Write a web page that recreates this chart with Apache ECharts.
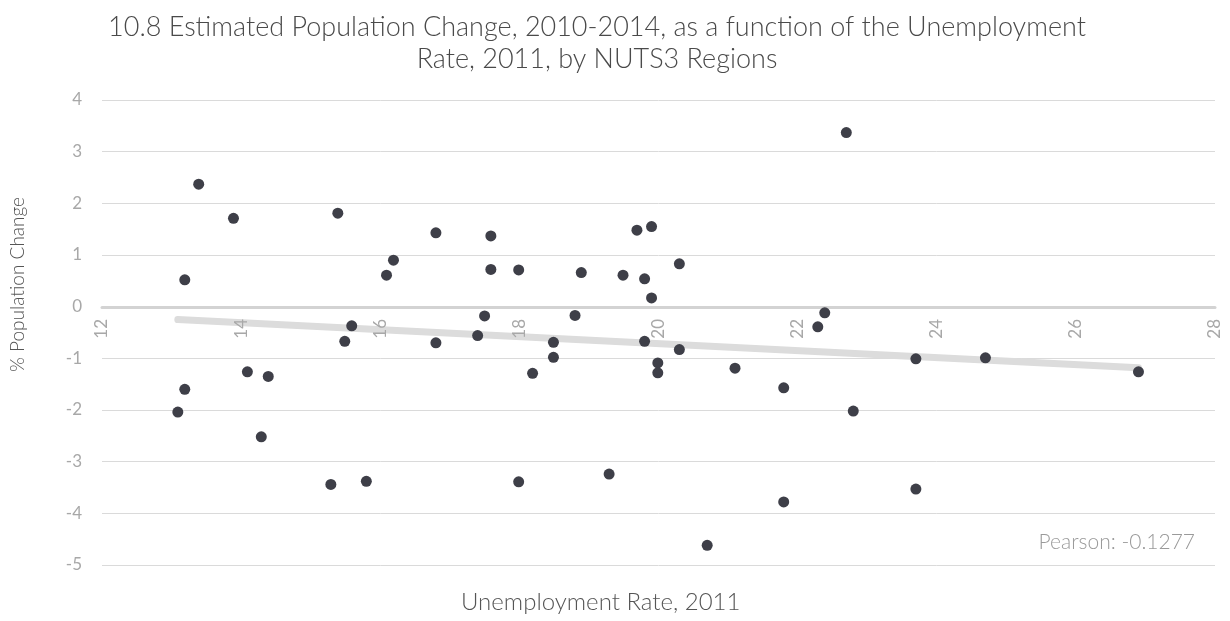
<!DOCTYPE html>
<html>
<head>
<meta charset="utf-8">
<script src="https://cdn.jsdelivr.net/npm/echarts@6/dist/echarts.min.js"></script>
<style>
  html, body { margin: 0; padding: 0; background: #fff; }
  #chart { width: 1230px; height: 621px; }
</style>
</head>
<body>
<div id="chart"></div>
<script>
// unemployment rate 2011 (x) and % population change 2010-2014 (y), one per NUTS3 region
const unemployment = [
  13.39, 13.89, 15.39, 16.19, 16.09, 13.19,
  15.59, 15.49, 14.09, 14.39, 13.19, 13.09, 14.29, 15.29, 15.80,
  16.80, 17.59, 17.59, 17.99, 18.89, 19.69, 19.90, 19.49, 19.80, 20.30, 19.90, 17.50, 18.80,
  16.80, 17.40, 18.49, 18.49, 18.19, 19.80, 19.99, 19.99, 20.30, 17.99, 19.29, 20.70,
  22.70, 22.39, 22.29,
  21.10, 21.80, 22.80, 23.70, 24.70, 26.90, 21.80, 23.70
];
const popChange = [
  2.37, 1.71, 1.81, 0.90, 0.61, 0.52,
  -0.37, -0.67, -1.26, -1.35, -1.60, -2.04, -2.52, -3.44, -3.38,
  1.43, 1.37, 0.72, 0.71, 0.66, 1.48, 1.55, 0.61, 0.54, 0.83, 0.17, -0.18, -0.17,
  -0.70, -0.56, -0.69, -0.98, -1.29, -0.67, -1.09, -1.28, -0.83, -3.39, -3.24, -4.62,
  3.37, -0.12, -0.39,
  -1.19, -1.57, -2.02, -1.01, -0.99, -1.26, -3.78, -3.53
];
// linear trend end points
const trendX = [13.09, 26.90];
const trendY = [-0.25, -1.18];
const pearson = -0.1277;

const points = unemployment.map((x, i) => [x, popChange[i]]);
const trend = trendX.map((x, i) => [x, trendY[i]]);

const font = 'Lato, "Open Sans", sans-serif';
const chart = echarts.init(document.getElementById('chart'));
chart.setOption({
  animation: false,
  textStyle: { fontFamily: font },
  title: {
    text: '10.8 Estimated Population Change, 2010-2014, as a function of the Unemployment\nRate, 2011, by NUTS3 Regions',
    left: 592,
    top: 6,
    textAlign: 'center',
    textStyle: { fontSize: 27, fontWeight: 300, color: '#4a4a4a', lineHeight: 32, fontFamily: font }
  },
  grid: { left: 102, right: 15, top: 100, bottom: 56 },
  xAxis: {
    type: 'value',
    min: 12, max: 28, interval: 2,
    offset: -258, // labels sit on the zero line
    z: 2,
    axisLine: { onZero: false, lineStyle: { color: '#d3d3d3', width: 3 } },
    axisTick: { show: false },
    splitLine: { show: false },
    axisLabel: { rotate: 90, color: '#a8a8a8', fontSize: 17, margin: 12, fontFamily: font }
  },
  yAxis: {
    type: 'value',
    min: -5, max: 4, interval: 1,
    axisLine: { show: false },
    axisTick: { show: false },
    splitLine: { lineStyle: { color: '#dadada', width: 1 } },
    axisLabel: { color: '#a8a8a8', fontSize: 17, margin: 20, fontFamily: font }
  },
  series: [
    {
      type: 'line',
      data: trend,
      symbol: 'none',
      lineStyle: { color: '#dcdcdc', width: 7, cap: 'round' },
      z: 1,
      silent: true
    },
    {
      type: 'scatter',
      data: points,
      symbolSize: 11,
      itemStyle: { color: '#3e3f48', opacity: 1 },
      z: 3
    }
  ],
  graphic: [
    {
      type: 'text',
      left: 8, top: 197,
      rotation: Math.PI / 2,
      style: { text: '% Population Change', fontSize: 19, fill: '#555', fontFamily: font, fontWeight: 300 }
    },
    {
      type: 'text',
      left: 461, top: 590,
      style: { text: 'Unemployment Rate, 2011', fontSize: 24, fill: '#555', fontFamily: font, fontWeight: 300 }
    },
    {
      type: 'text',
      right: 35, top: 532,
      style: { text: 'Pearson: ' + pearson, fontSize: 21, fill: '#9a9a9a', fontFamily: font, fontWeight: 300 }
    }
  ]
});
</script>
</body>
</html>
